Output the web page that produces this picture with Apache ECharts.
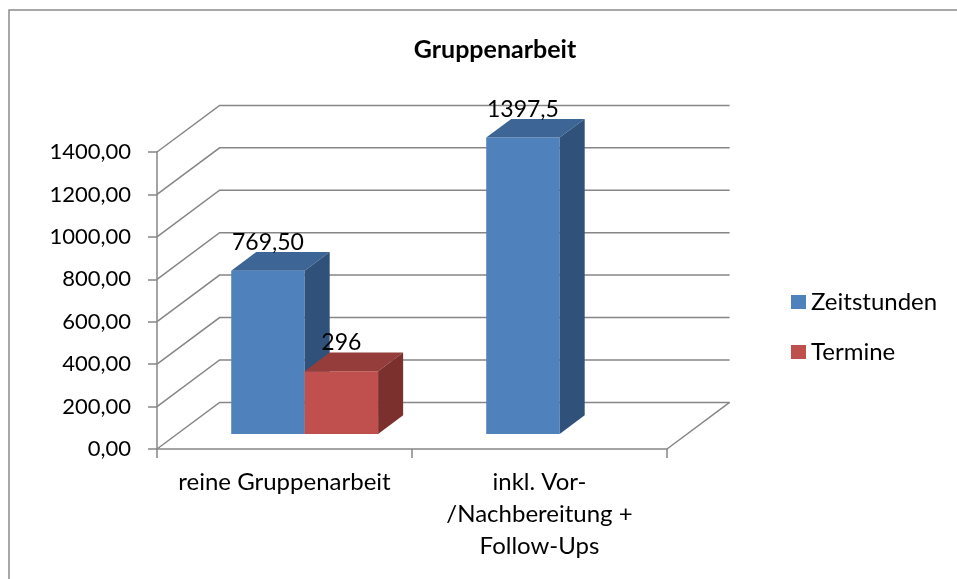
<!DOCTYPE html>
<html>
<head>
<meta charset="utf-8">
<script src="https://cdn.jsdelivr.net/npm/echarts@6/dist/echarts.min.js"></script>
<style>
  html, body { margin: 0; padding: 0; background: #fff; }
  #chart { width: 957px; height: 579px; }
</style>
</head>
<body>
<div id="chart"></div>
<script>
// data
var categories = ['reine Gruppenarbeit', 'inkl. Vor-\n/Nachbereitung +\nFollow-Ups'];
var zeitstunden = [769.5, 1397.5];
var termine = [296, null];
var zeitLabels = ['769,50', '1397,5'];
var termineLabels = ['296', ''];
var yTicks = [0, 200, 400, 600, 800, 1000, 1200, 1400];

// 3d look
var DEPTH_X = 62.6, DEPTH_Y = 46.6;   // front plane -> back wall
var FACE_D = 0.322;                   // where bar front faces sit
var BAR_D = 0.4;                      // bar depth
var BAR_FRAC = 0.288;                 // bar width / category width
var FONT = 'Lato, "Open Sans", sans-serif';
var GRAY = '#868686';

var chart = echarts.init(document.getElementById('chart'));

function wallItem(params, api) {
    var cs = params.coordSys;
    var v = api.value(0);
    var y = api.coord([0, v])[1];
    var x0 = cs.x, x1 = cs.x + cs.width;
    var kids = [{
        type: 'polyline',
        shape: { points: [[x0, y], [x0 + DEPTH_X, y - DEPTH_Y], [x1 + DEPTH_X, y - DEPTH_Y]] },
        style: { stroke: GRAY, lineWidth: 1.5, fill: null }
    }];
    if (v === 0) {
        kids.push({
            type: 'line',
            shape: { x1: x1, y1: y, x2: x1 + DEPTH_X, y2: y - DEPTH_Y },
            style: { stroke: GRAY, lineWidth: 1.5 }
        });
    }
    return { type: 'group', children: kids };
}

function barItem(slot, cols, labels) {
    return function (params, api) {
        var idx = api.value(0), val = api.value(1);
        var base = api.coord([idx, 0]);
        var top = api.coord([idx, val]);
        var w = api.size([1, 0])[0] * BAR_FRAC;
        var x0 = base[0] + (slot === 0 ? -w : 0) + DEPTH_X * FACE_D;
        var yB = base[1] - DEPTH_Y * FACE_D;
        var yT = top[1] - DEPTH_Y * FACE_D;
        var bx = DEPTH_X * BAR_D, by = DEPTH_Y * BAR_D;
        return {
            type: 'group',
            children: [
                { type: 'rect', shape: { x: x0, y: yT, width: w, height: yB - yT }, style: { fill: cols[0] } },
                { type: 'polygon', shape: { points: [[x0, yT], [x0 + w, yT], [x0 + w + bx, yT - by], [x0 + bx, yT - by]] }, style: { fill: cols[1] } },
                { type: 'polygon', shape: { points: [[x0 + w, yT], [x0 + w + bx, yT - by], [x0 + w + bx, yB - by], [x0 + w, yB]] }, style: { fill: cols[2] } },
                {
                    type: 'text',
                    style: {
                        x: x0 + w / 2, y: yT - by + 2, text: labels[idx],
                        align: 'center', verticalAlign: 'bottom',
                        fill: '#000', font: '23px ' + FONT
                    }
                }
            ]
        };
    };
}

function toData(arr) {
    var out = [];
    arr.forEach(function (v, i) { if (v != null) out.push([i, v]); });
    return out;
}

var option = {
    backgroundColor: '#fff',
    animation: false,
    title: {
        text: 'Gruppenarbeit',
        left: 490, top: 32, textAlign: 'center',
        textStyle: { fontFamily: FONT, fontWeight: 'bold', fontSize: 25, color: '#000' }
    },
    graphic: [{
        type: 'rect', silent: true,
        shape: { x: 9, y: 10, width: 960, height: 590 },
        style: { fill: null, stroke: '#8a8a8a', lineWidth: 1.5 }
    }],
    legend: {
        orient: 'vertical', left: 786, top: 285,
        itemWidth: 15, itemHeight: 14, itemGap: 26,
        icon: 'rect',
        data: ['Zeitstunden', 'Termine'],
        textStyle: { fontFamily: FONT, fontSize: 24, color: '#000', lineHeight: 24 }
    },
    grid: { left: 157, right: 290, top: 152, bottom: 130 },
    xAxis: {
        type: 'category',
        data: categories,
        axisLine: { lineStyle: { color: GRAY, width: 1.5 } },
        axisTick: { show: true, length: 9, lineStyle: { color: GRAY, width: 1.5 } },
        axisLabel: { interval: 0, margin: 17, color: '#000', fontFamily: FONT, fontSize: 24, lineHeight: 32 }
    },
    yAxis: {
        type: 'value', min: 0, max: 1400, interval: 200,
        axisLine: { show: true, lineStyle: { color: GRAY, width: 1.5 } },
        axisTick: { show: true, length: 9, lineStyle: { color: GRAY, width: 1.5 } },
        splitLine: { show: false },
        axisLabel: {
            margin: 26, color: '#000', fontFamily: FONT, fontSize: 22,
            padding: [5, 0, 0, 0],
            formatter: function (v) { return v.toFixed(2).replace('.', ','); }
        }
    },
    series: [
        {
            name: 'walls', type: 'custom', silent: true, clip: false,
            renderItem: wallItem,
            data: yTicks.map(function (v) { return [v]; })
        },
        {
            name: 'Zeitstunden', type: 'custom', clip: false,
            itemStyle: { color: '#4f81bd' },
            renderItem: barItem(0, ['#4f81bd', '#3d6596', '#30527a'], zeitLabels),
            encode: { x: 0, y: 1 },
            data: toData(zeitstunden)
        },
        {
            name: 'Termine', type: 'custom', clip: false,
            itemStyle: { color: '#c0504d' },
            renderItem: barItem(1, ['#c0504d', '#943d3b', '#7b302e'], termineLabels),
            encode: { x: 0, y: 1 },
            data: toData(termine)
        }
    ]
};

chart.setOption(option);
</script>
</body>
</html>
